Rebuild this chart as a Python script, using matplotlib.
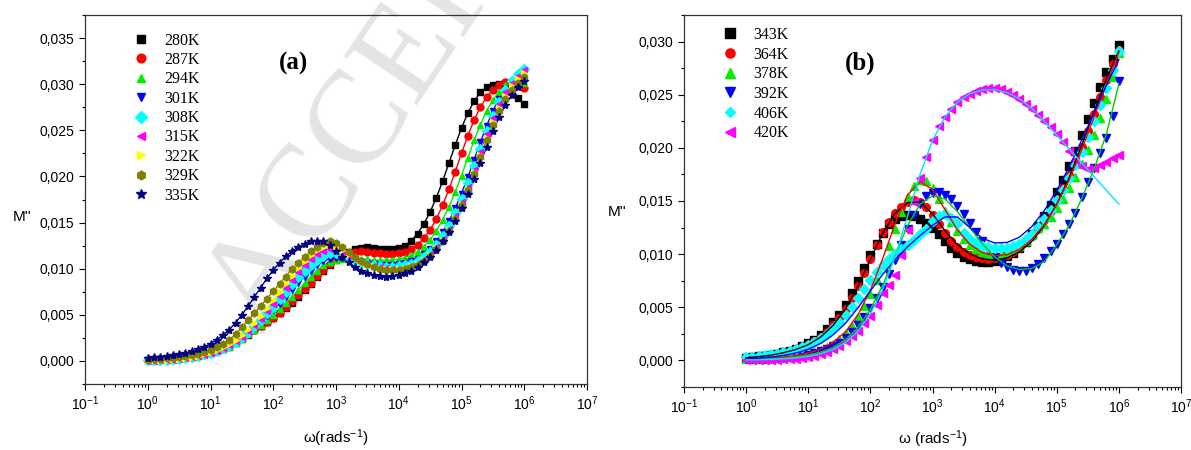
import numpy as np
import matplotlib
matplotlib.use("Agg")
import matplotlib.pyplot as plt
from matplotlib.ticker import FuncFormatter, LogLocator, MultipleLocator, LogFormatterMathtext

plt.rcParams["font.family"] = ["Liberation Sans", "DejaVu Sans"]
plt.rcParams["mathtext.default"] = "regular"

# log10(omega) grid of the measurements, 10 points per decade from 1 to 1e6 rad/s
log_w = np.arange(61) / 10.0
log_fit = np.arange(31) / 5.0

# ---- panel (a), M'' in units of 1e-3 ----
labels_a = ["280K", "287K", "294K", "301K", "308K", "315K", "322K", "329K", "335K"]
m280 = [0.10, 0.13, 0.16, 0.20, 0.25, 0.31, 0.38, 0.47, 0.57, 0.70, 0.85, 1.03, 1.25, 1.55, 1.95,
        2.40, 2.85, 3.30, 3.75, 4.20, 4.65, 5.15, 5.70, 6.30, 6.95, 7.65, 8.35, 9.05, 9.75, 10.40,
        10.95, 11.45, 11.85, 12.10, 12.25, 12.30, 12.25, 12.15, 12.10, 12.10, 12.20, 12.50, 13.05,
        13.80, 14.85, 16.15, 17.70, 19.50, 21.45, 23.40, 25.25, 26.85, 28.15, 29.10, 29.65, 29.90,
        30.00, 29.85, 29.30, 28.50, 27.80]
m287 = [0.15, 0.18, 0.21, 0.25, 0.30, 0.36, 0.43, 0.52, 0.62, 0.75, 0.90, 1.08, 1.30, 1.60, 2.00,
        2.45, 2.90, 3.35, 3.80, 4.25, 4.70, 5.25, 5.85, 6.45, 7.10, 7.80, 8.50, 9.20, 9.90, 10.50,
        11.00, 11.40, 11.70, 11.85, 11.90, 11.85, 11.75, 11.65, 11.60, 11.60, 11.65, 11.80, 12.10,
        12.60, 13.30, 14.20, 15.40, 16.90, 18.60, 20.50, 22.50, 24.40, 26.10, 27.50, 28.60, 29.40,
        29.90, 30.25, 30.35, 30.10, 29.60]
m294 = [0.08, 0.10, 0.13, 0.17, 0.22, 0.28, 0.35, 0.44, 0.55, 0.68, 0.84, 1.03, 1.26, 1.55, 1.92,
        2.38, 2.88, 3.40, 3.92, 4.45, 5.00, 5.60, 6.25, 6.95, 7.70, 8.45, 9.15, 9.80, 10.35, 10.75,
        10.95, 11.05, 11.10, 11.10, 11.05, 11.00, 10.95, 10.90, 10.90, 10.95, 11.05, 11.20, 11.45,
        11.85, 12.40, 13.15, 14.10, 15.30, 16.70, 18.30, 20.10, 22.00, 23.90, 25.60, 27.10, 28.30,
        29.20, 29.90, 30.35, 30.45, 30.10]
m301 = [0.10, 0.12, 0.15, 0.19, 0.24, 0.30, 0.38, 0.47, 0.59, 0.73, 0.90, 1.11, 1.36, 1.67, 2.06,
        2.52, 3.05, 3.62, 4.22, 4.85, 5.50, 6.20, 6.95, 7.70, 8.45, 9.15, 9.80, 10.35, 10.80, 11.10,
        11.20, 11.15, 11.00, 10.85, 10.70, 10.60, 10.50, 10.45, 10.45, 10.45, 10.50, 10.60, 10.80,
        11.10, 11.55, 12.15, 12.95, 13.95, 15.15, 16.55, 18.15, 19.90, 21.80, 23.70, 25.50, 27.10,
        28.40, 29.45, 30.25, 30.80, 31.20]
m308 = [0.05, 0.07, 0.10, 0.14, 0.19, 0.25, 0.33, 0.43, 0.55, 0.70, 0.88, 1.10, 1.37, 1.70, 2.10,
        2.58, 3.15, 3.78, 4.45, 5.15, 5.90, 6.70, 7.50, 8.30, 9.05, 9.75, 10.40, 10.95, 11.40, 11.65,
        11.70, 11.55, 11.30, 11.00, 10.75, 10.55, 10.40, 10.25, 10.20, 10.20, 10.25, 10.35, 10.55,
        10.85, 11.25, 11.80, 12.55, 13.50, 14.65, 16.00, 17.55, 19.25, 21.10, 23.00, 24.90, 26.60,
        28.10, 29.35, 30.35, 31.10, 31.70]
m315 = [0.00, 0.02, 0.05, 0.09, 0.14, 0.21, 0.29, 0.40, 0.53, 0.69, 0.88, 1.11, 1.39, 1.73, 2.14,
        2.63, 3.22, 3.88, 4.60, 5.38, 6.20, 7.05, 7.90, 8.75, 9.60, 10.35, 11.00, 11.55, 11.95, 12.10,
        12.00, 11.75, 11.40, 11.05, 10.75, 10.50, 10.30, 10.15, 10.05, 10.00, 10.00, 10.10, 10.30,
        10.60, 11.00, 11.55, 12.30, 13.20, 14.35, 15.70, 17.20, 18.90, 20.75, 22.65, 24.55, 26.30,
        27.85, 29.15, 30.15, 30.90, 31.50]
m322 = [0.05, 0.07, 0.10, 0.14, 0.19, 0.26, 0.34, 0.45, 0.58, 0.74, 0.94, 1.18, 1.47, 1.83, 2.27,
        2.80, 3.42, 4.12, 4.90, 5.72, 6.60, 7.50, 8.40, 9.25, 10.05, 10.80, 11.45, 12.00, 12.40, 12.55,
        12.40, 12.05, 11.60, 11.15, 10.75, 10.45, 10.25, 10.10, 10.00, 9.95, 9.95, 10.05, 10.25,
        10.55, 10.95, 11.50, 12.20, 13.10, 14.20, 15.50, 17.00, 18.65, 20.45, 22.30, 24.15, 25.90,
        27.45, 28.75, 29.80, 30.60, 31.20]
m329 = [0.15, 0.18, 0.22, 0.27, 0.33, 0.41, 0.51, 0.64, 0.80, 0.99, 1.22, 1.50, 1.85, 2.30, 2.90,
        3.65, 4.40, 5.15, 5.95, 6.75, 7.55, 8.35, 9.15, 9.95, 10.65, 11.30, 11.90, 12.40, 12.80, 12.95,
        12.80, 12.40, 11.85, 11.30, 10.85, 10.50, 10.20, 10.00, 9.90, 9.85, 9.85, 9.95, 10.15,
        10.45, 10.85, 11.40, 12.10, 13.00, 14.10, 15.40, 16.90, 18.55, 20.30, 22.10, 23.90, 25.60,
        27.10, 28.35, 29.35, 30.15, 30.80]
m335 = [0.35, 0.40, 0.46, 0.53, 0.62, 0.73, 0.87, 1.04, 1.25, 1.52, 1.88, 2.30, 2.80, 3.40, 4.15,
        5.00, 5.95, 6.95, 7.95, 8.95, 9.85, 10.65, 11.35, 11.90, 12.35, 12.70, 12.95, 13.05, 12.95, 12.55,
        11.95, 11.30, 10.70, 10.20, 9.80, 9.50, 9.35, 9.20, 9.15, 9.20, 9.30, 9.50, 9.80,
        10.20, 10.70, 11.30, 12.05, 12.95, 14.00, 15.20, 16.55, 18.05, 19.70, 21.45, 23.20, 24.90,
        26.45, 27.75, 28.80, 29.65, 30.30]
series_a = [m280, m287, m294, m301, m308, m315, m322, m329, m335]

# ---- panel (b), M'' in units of 1e-3 ----
labels_b = ["343K", "364K", "378K", "392K", "406K", "420K"]
m343 = [0.27, 0.32, 0.38, 0.45, 0.54, 0.64, 0.77, 0.92, 1.10, 1.32, 1.60, 1.95, 2.40, 3.00, 3.60,
        4.30, 5.20, 6.30, 7.50, 8.70, 9.90, 11.00, 12.00, 12.80, 13.30, 13.60, 13.70, 13.60, 13.35, 12.95,
        12.45, 11.85, 11.20, 10.60, 10.10, 9.75, 9.50, 9.35, 9.30, 9.30, 9.40, 9.55, 9.80,
        10.15, 10.60, 11.15, 11.85, 12.65, 13.60, 14.65, 15.80, 17.00, 18.30, 19.70, 21.20, 22.70,
        24.20, 25.70, 27.10, 28.40, 29.65]
m364 = [0.25, 0.30, 0.35, 0.42, 0.50, 0.60, 0.72, 0.86, 1.03, 1.24, 1.48, 1.80, 2.20, 2.70, 3.30,
        4.00, 4.85, 5.85, 7.00, 8.25, 9.55, 10.85, 12.05, 13.05, 13.85, 14.45, 14.90, 15.10, 14.95, 14.45,
        13.70, 12.85, 12.00, 11.25, 10.65, 10.20, 9.90, 9.70, 9.60, 9.55, 9.60, 9.70, 9.90,
        10.20, 10.60, 11.10, 11.70, 12.40, 13.20, 14.10, 15.10, 16.20, 17.40, 18.70, 20.10, 21.60,
        23.20, 24.80, 26.40, 27.90, 29.20]
m378 = [0.10, 0.12, 0.14, 0.17, 0.20, 0.24, 0.29, 0.35, 0.43, 0.53, 0.65, 0.80, 1.00, 1.25, 1.58,
        2.00, 2.55, 3.25, 4.10, 5.10, 6.25, 7.60, 9.10, 10.75, 12.40, 14.00, 15.40, 16.45, 17.00, 16.90,
        16.20, 15.20, 14.10, 13.05, 12.15, 11.40, 10.85, 10.45, 10.20, 10.05, 10.00, 10.05, 10.20,
        10.45, 10.80, 11.25, 11.80, 12.45, 12.80, 13.50, 14.30, 15.20, 16.20, 17.30, 18.50, 19.80,
        21.20, 22.80, 24.60, 26.70, 28.90]
m392 = [0.10, 0.11, 0.13, 0.15, 0.18, 0.21, 0.25, 0.30, 0.37, 0.45, 0.55, 0.68, 0.85, 1.06, 1.33,
        1.67, 2.10, 2.65, 3.30, 4.05, 4.90, 5.85, 6.90, 8.10, 9.45, 10.90, 12.35, 13.70, 14.75, 15.45,
        15.75, 15.80, 15.60, 15.15, 14.50, 13.75, 12.90, 12.05, 11.20, 10.40, 9.70, 9.15, 8.75,
        8.50, 8.40, 8.45, 8.65, 9.05, 9.60, 10.25, 11.00, 11.85, 12.80, 13.85, 15.40, 16.80,
        18.10, 19.50, 20.90, 23.00, 26.30]
m406 = [0.30, 0.35, 0.41, 0.48, 0.56, 0.65, 0.76, 0.89, 1.05, 1.25, 1.48, 1.76, 2.10, 2.52, 3.02,
        3.60, 4.28, 5.05, 5.90, 6.75, 7.55, 8.30, 8.95, 9.50, 10.00, 10.45, 10.90, 11.35, 11.85, 12.35,
        13.10, 13.60, 13.75, 13.40, 12.80, 12.00, 11.45, 11.05, 10.80, 10.65, 10.55, 10.55, 10.60,
        10.75, 11.00, 11.40, 11.90, 12.55, 13.30, 14.15, 15.05, 16.05, 17.15, 18.35, 19.65, 21.05,
        22.50, 24.00, 25.60, 27.30, 29.10]
m420 = [0.00, 0.00, 0.01, 0.02, 0.04, 0.06, 0.09, 0.13, 0.18, 0.25, 0.34, 0.45, 0.60, 0.80, 1.05,
        1.38, 1.80, 2.32, 2.80, 3.50, 4.20, 5.20, 6.30, 7.10, 8.00, 9.90, 12.30, 14.90, 17.20, 19.10,
        20.70, 22.05, 22.95, 23.70, 24.30, 24.75, 25.10, 25.35, 25.50, 25.60, 25.60, 25.50, 25.30,
        25.00, 24.60, 24.15, 23.65, 23.10, 22.55, 21.95, 21.30, 20.55, 19.70, 18.90, 18.30, 18.05,
        18.10, 18.35, 18.65, 19.00, 19.30]
series_b = [m343, m364, m378, m392, m406, m420]

# fitted curves (panel b), 5 points per decade
fit_black = [0.25, 0.35, 0.50, 0.72, 1.03, 1.48, 2.20, 3.30, 4.85, 7.00, 9.50, 12.00, 13.85, 14.85, 14.90,
             13.80, 12.20, 10.90, 10.00, 9.55, 9.45, 9.65, 10.20, 11.20, 12.70, 14.70, 17.20, 20.20,
             23.40, 26.50, 29.10]
fit_red = [0.12, 0.16, 0.22, 0.31, 0.46, 0.70, 1.08, 1.70, 2.70, 4.30, 6.60, 9.60, 12.90, 15.60, 16.80,
           16.10, 14.20, 12.30, 10.95, 10.15, 9.85, 9.95, 10.45, 11.40, 12.80, 14.70, 17.00, 19.80,
           22.90, 26.00, 29.00]
fit_green = [0.08, 0.11, 0.15, 0.22, 0.33, 0.50, 0.78, 1.22, 1.95, 3.10, 4.80, 7.10, 9.90, 12.70, 14.70,
             15.50, 15.20, 14.00, 12.50, 11.00, 9.75, 8.90, 8.55, 8.65, 9.30, 10.90, 12.70, 15.20,
             18.00, 21.30, 26.00]
fit_blue = [0.15, 0.22, 0.32, 0.47, 0.70, 1.05, 1.60, 2.40, 3.50, 4.95, 6.55, 8.10, 9.50, 10.70, 11.75,
            12.70, 13.50, 13.50, 12.50, 11.50, 11.05, 11.10, 11.60, 12.60, 14.10, 16.00, 18.20, 20.70,
            23.30, 25.90, 28.30]
fit_cyan = [0.05, 0.07, 0.10, 0.15, 0.24, 0.38, 0.62, 1.02, 1.68, 2.75, 4.40, 6.70, 9.80, 13.60, 17.50,
            20.70, 22.90, 24.30, 25.10, 25.45, 25.50, 25.20, 24.60, 23.70, 22.50, 21.20, 19.90, 18.60,
            17.30, 16.00, 14.70]
fits_b = [fit_black, fit_red, fit_green, fit_blue, fit_cyan]

colors_a = ["black", "#ff0000", "#00ee00", "#0000ff", "#00ffff", "#ff00ff", "#ffff00", "#808000", "#000080"]
markers_a = ["s", "o", "^", "v", "D", "<", ">", "h", "*"]
colors_b = ["black", "#ff0000", "#00ee00", "#0000ff", "#00ffff", "#ff00ff"]
markers_b = ["s", "o", "^", "v", "D", "<"]
fit_colors = ["black", "#ff0000", "#00cc00", "#0000ff", "#00e5ff"]

omega = 10 ** log_w
omega_fit = 10 ** log_fit


def comma_fmt(v, pos):
    return "{:.3f}".format(v).replace(".", ",").replace("-0,000", "0,000")


def style_axes(ax, ytop):
    ax.set_xscale("log")
    ax.set_xlim(1e-1, 1e7)
    ax.set_ylim(-0.0025, ytop)
    ax.xaxis.set_major_locator(LogLocator(base=10, numticks=20))
    ax.xaxis.set_minor_locator(LogLocator(base=10, subs=np.arange(2, 10), numticks=20))
    ax.xaxis.set_major_formatter(LogFormatterMathtext())
    ax.yaxis.set_major_locator(MultipleLocator(0.005))
    ax.yaxis.set_minor_locator(MultipleLocator(0.0025))
    ax.yaxis.set_major_formatter(FuncFormatter(comma_fmt))
    ax.tick_params(which="both", direction="out", top=False, right=False, labelsize=10, width=0.8)
    ax.tick_params(which="major", length=4)
    ax.tick_params(which="minor", length=2.5)
    for s in ax.spines.values():
        s.set_linewidth(0.9)
        s.set_color("#333333")
    ax.patch.set_alpha(0)


fig = plt.figure(figsize=(11.91, 4.5), dpi=100)

# watermark, kept behind the axes
fig.text(262 / 1191, 1 - 335 / 450, "ACCEPTED MANUSCRIPT", rotation=56, rotation_mode="anchor",
         ha="left", va="baseline", fontsize=96, color="#e4e4e4", family="Liberation Serif", zorder=-5)

ax1 = fig.add_axes([85 / 1191, 1 - 384 / 450, 502 / 1191, 369 / 450])
ax2 = fig.add_axes([684 / 1191, 1 - 387 / 450, 497 / 1191, 372 / 450])

for vals, c, m, lab in zip(series_a, colors_a, markers_a, labels_a):
    y = np.array(vals) * 1e-3
    ax1.plot(omega, y, "-", color=c, lw=1.0, zorder=2)
    ax1.plot(omega, y, ls="none", marker=m, color=c, ms=6 if m == "*" else 5, mec=c, label=lab, zorder=3)

for vals, c, m, lab in zip(series_b, colors_b, markers_b, labels_b):
    y = np.array(vals) * 1e-3
    ax2.plot(omega, y, ls="none", marker=m, color=c, ms=4.6 if m == "D" else 5.5, mec=c, label=lab, zorder=2)
for vals, c in zip(fits_b, fit_colors):
    ax2.plot(omega_fit, np.array(vals) * 1e-3, "-", color=c, lw=1.0, zorder=3)

style_axes(ax1, 0.0375)
style_axes(ax2, 0.0325)

leg_font = {"family": "Liberation Serif", "size": 11.5}
ax1.legend(loc="upper left", bbox_to_anchor=(0.096, 0.952), frameon=False, prop=leg_font,
           handlelength=1.0, handletextpad=0.95, labelspacing=0.21, borderpad=0, borderaxespad=0,
           markerscale=1.25)
ax2.legend(loc="upper left", bbox_to_anchor=(0.077, 0.968), frameon=False, prop=leg_font,
           handlelength=1.0, handletextpad=0.95, labelspacing=0.23, borderpad=0, borderaxespad=0,
           markerscale=1.2)

ax1.text(294 / 1191, 1 - 63 / 450, "(a)", transform=fig.transFigure, ha="center", va="center",
         fontsize=18, fontweight="bold", family="Liberation Serif")
ax2.text(860 / 1191, 1 - 63 / 450, "(b)", transform=fig.transFigure, ha="center", va="center",
         fontsize=18, fontweight="bold", family="Liberation Serif")

fig.text(22 / 1191, 1 - 217 / 450, "M''", ha="center", va="center", fontsize=11)
fig.text(617 / 1191, 1 - 212 / 450, "M''", ha="center", va="center", fontsize=11)
fig.text(336 / 1191, 1 - 438 / 450, "ω(rads$^{-1}$)", ha="center", va="center", fontsize=11)
fig.text(933 / 1191, 1 - 439 / 450, "ω (rads$^{-1}$)", ha="center", va="center", fontsize=11)

fig.savefig("out.png", dpi=100)
